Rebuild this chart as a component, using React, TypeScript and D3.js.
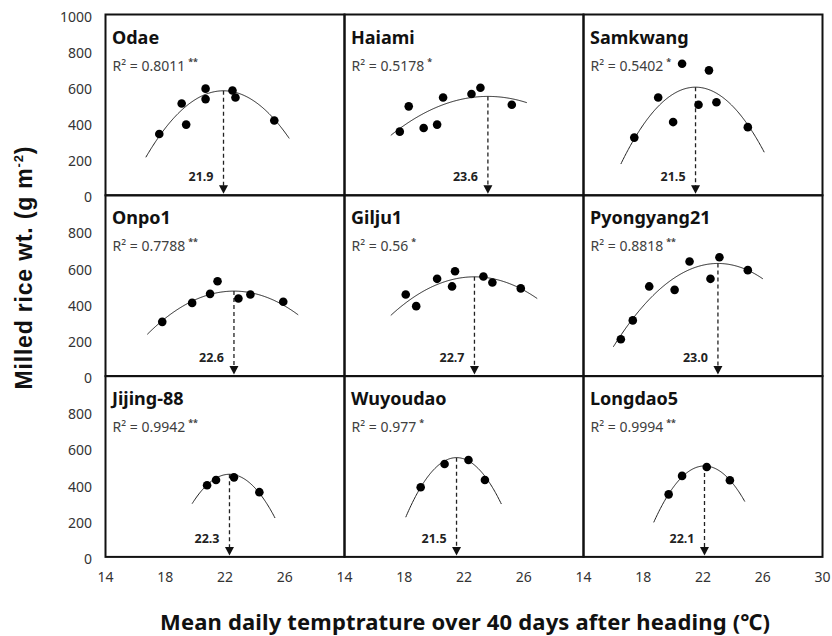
import React from "react";
import * as d3 from "d3";

// ---------- DATA ----------
const cultivars = ["Odae", "Haiami", "Samkwang", "Onpo1", "Gilju1", "Pyongyang21", "Jijing-88", "Wuyoudao", "Longdao5"];
const r2Values = ["0.8011", "0.5178", "0.5402", "0.7788", "0.56", "0.8818", "0.9942", "0.977", "0.9994"];
const sigMarks = ["**", "*", "*", "**", "*", "**", "**", "*", "**"];
const optTemps = [21.9, 23.6, 21.5, 22.6, 22.7, 23.0, 22.3, 21.5, 22.1];
const optLabels = ["21.9", "23.6", "21.5", "22.6", "22.7", "23.0", "22.3", "21.5", "22.1"];
const peakYields = [578, 547, 598, 470, 549, 623, 457, 549, 503];
const curvatures = [13.6, 5.1, 17, 7.1, 6.8, 9.4, 26, 28.5, 27];
const curveStarts = [16.7, 17.1, 16.5, 16.8, 17.1, 16.0, 19.8, 18.1, 18.7];
const curveEnds = [26.3, 26.2, 26.1, 26.9, 26.9, 26.0, 25.35, 24.5, 24.8];

const odaeTemps = [17.6, 19.1, 19.4, 20.7, 20.7, 22.5, 22.7, 25.3];
const odaeYields = [339, 508, 391, 590, 532, 580, 541, 414];
const haiamiTemps = [17.7, 18.3, 19.3, 20.2, 20.6, 22.5, 23.1, 25.2];
const haiamiYields = [352, 492, 372, 391, 541, 560, 595, 501];
const samkwangTemps = [17.4, 19.0, 20.0, 20.6, 21.7, 22.4, 22.9, 25.0];
const samkwangYields = [319, 541, 405, 728, 501, 691, 515, 377];
const onpo1Temps = [17.8, 19.8, 21.0, 21.5, 22.9, 23.7, 25.9];
const onpo1Yields = [300, 405, 455, 525, 429, 451, 411];
const gilju1Temps = [18.1, 18.8, 20.2, 21.2, 21.4, 23.3, 23.9, 25.8];
const gilju1Yields = [451, 387, 538, 496, 580, 551, 518, 485];
const pyongyang21Temps = [16.5, 17.3, 18.4, 20.1, 21.1, 22.5, 23.1, 25.0];
const pyongyang21Yields = [204, 308, 496, 477, 634, 538, 657, 586];
const jijing88Temps = [20.8, 21.4, 22.6, 24.3];
const jijing88Yields = [396, 425, 440, 358];
const wuyoudaoTemps = [19.1, 20.7, 22.3, 23.4];
const wuyoudaoYields = [385, 514, 536, 425];
const longdao5Temps = [19.7, 20.6, 22.25, 23.8];
const longdao5Yields = [346, 448, 497, 424];

const pointTemps = [odaeTemps, haiamiTemps, samkwangTemps, onpo1Temps, gilju1Temps, pyongyang21Temps, jijing88Temps, wuyoudaoTemps, longdao5Temps];
const pointYields = [odaeYields, haiamiYields, samkwangYields, onpo1Yields, gilju1Yields, pyongyang21Yields, jijing88Yields, wuyoudaoYields, longdao5Yields];

const xTicks = [14, 18, 22, 26];
const yTicksTop = [0, 200, 400, 600, 800, 1000];
const yTicksOther = [0, 200, 400, 600, 800];

// ---------- LAYOUT ----------
const W = 832, H = 636;
const left = 105.5, colW = 239;
const top = 14.5, rowH = 180.8;
const tickFont = "'Noto Sans', 'DejaVu Sans', sans-serif";

export default function App() {
  const panels = cultivars.map((name, i) => {
    const c = i % 3, r = Math.floor(i / 3);
    const x = d3.scaleLinear().domain([14, 30]).range([left + c * colW, left + (c + 1) * colW]);
    const y = d3.scaleLinear().domain([0, 1000]).range([top + (r + 1) * rowH, top + r * rowH]);
    const fit = (t: number) => peakYields[i] - curvatures[i] * (t - optTemps[i]) ** 2;
    const samples = d3.range(curveStarts[i], curveEnds[i] + 0.001, 0.05);
    const line = d3.line<number>().x((t) => x(t)).y((t) => y(fit(t))).curve(d3.curveLinear);
    const x0 = x.range()[0];
    const y0 = y.range()[1];
    const bottom = y(0);
    const ax = x(optTemps[i]);
    const ay = y(peakYields[i]);
    const pts = pointTemps[i].map((t, k) => [x(t), y(pointYields[i][k])]);
    return (
      <g key={name}>
        <path d={line(samples) || ""} fill="none" stroke="#222" strokeWidth={1} />
        <line x1={ax} x2={ax} y1={ay} y2={bottom - 8} stroke="#222" strokeWidth={1.3} strokeDasharray="4,3" />
        <path d={`M${ax - 4.5},${bottom - 10} L${ax + 4.5},${bottom - 10} L${ax},${bottom - 1.5} Z`} fill="#111" />
        <text x={ax - 10} y={bottom - 14} textAnchor="end" fontFamily={tickFont} fontWeight="bold" fontSize={12.5} fill="#222">
          {optLabels[i]}
        </text>
        {pts.map((p, k) => (
          <circle key={k} cx={p[0]} cy={p[1]} r={4.3} fill="#000" />
        ))}
        <text x={x0 + 6.5} y={y0 + 29} fontFamily={tickFont} fontWeight="bold" fontSize={18} fill="#111">
          {name}
        </text>
        <text x={x0 + 7} y={y0 + 56} fontFamily={tickFont} fontSize={14} fill="#404040" xmlSpace="preserve">
          {"R² = " + r2Values[i]}
          <tspan dy={-6} fontSize={9} fontWeight="bold" dx={3}>{sigMarks[i]}</tspan>
        </text>
      </g>
    );
  });

  const xs = [0, 1, 2].map((c) => d3.scaleLinear().domain([14, 30]).range([left + c * colW, left + (c + 1) * colW]));
  const ys = [0, 1, 2].map((r) => d3.scaleLinear().domain([0, 1000]).range([top + (r + 1) * rowH, top + r * rowH]));

  return (
    <svg width={W} height={H} style={{ position: "absolute", left: 0, top: 0, background: "#fff" }}>
      <rect x={0} y={0} width={W} height={H} fill="#fff" />
      {/* frames */}
      {[0, 1, 2].map((r) =>
        [0, 1, 2].map((c) => (
          <rect key={`${r}-${c}`} x={left + c * colW} y={top + r * rowH} width={colW} height={rowH} fill="none" stroke="#111" strokeWidth={2} />
        ))
      )}
      {panels}
      {/* y tick labels */}
      {ys.map((y, r) =>
        (r === 0 ? yTicksTop : yTicksOther).map((v) => (
          <text key={`y${r}-${v}`} x={92} y={y(v) + 1.5} textAnchor="end" dominantBaseline="central" fontFamily={tickFont} fontSize={14} fill="#333">
            {v}
          </text>
        ))
      )}
      {/* x tick labels */}
      {xs.map((x, c) =>
        (c === 2 ? [...xTicks, 30] : xTicks).map((v) => (
          <text key={`x${c}-${v}`} x={x(v)} y={582} textAnchor="middle" fontFamily={tickFont} fontSize={14} fill="#333">
            {v}
          </text>
        ))
      )}
      {/* axis titles */}
      <text transform="translate(32,268) rotate(-90)" textAnchor="middle" fontFamily="'Liberation Sans', Arial, sans-serif" fontWeight="bold" fontSize={23} fill="#111" textLength={243} lengthAdjust="spacing">
        Milled rice wt. (g m<tspan dy={-9} fontSize={13}>-2</tspan><tspan dy={9}>)</tspan>
      </text>
      <text x={465} y={630} textAnchor="middle" fontFamily={tickFont} fontWeight="bold" fontSize={22} fill="#111" textLength={610} lengthAdjust="spacing">
        Mean daily temptrature over 40 days after heading (℃)
      </text>
    </svg>
  );
}
